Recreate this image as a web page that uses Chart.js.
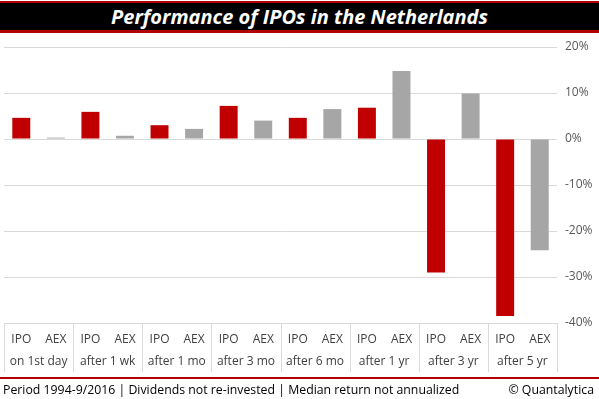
<!DOCTYPE html>
<html>
<head>
<meta charset="utf-8">
<script src="https://cdn.jsdelivr.net/npm/chart.js@4/dist/chart.umd.min.js"></script>
<style>
  html, body { margin: 0; padding: 0; background: #fff; }
  #wrap { position: relative; width: 599px; height: 399px; overflow: hidden; font-family: 'Open Sans', sans-serif; }
  #chart { position: absolute; left: 0; top: 0; }
  #title {
    position: absolute; left: 0; top: 1px; width: 599px; height: 27px;
    background: #000; border-top: 2px solid #b00000; border-bottom: 3px solid #b00000;
    color: #fff; font-weight: 700; font-style: italic; font-size: 20px;
    text-align: center; line-height: 27px;
  }
  #footer {
    position: absolute; left: 0; top: 377px; width: 599px; height: 22px;
    border-top: 2px solid #b00000; font-size: 12.3px; color: #000; line-height: 21px;
  }
  #footer .l { position: absolute; left: 3px; top: 0; }
  #footer .r { position: absolute; right: 5px; top: 0; }
</style>
</head>
<body>
<div id="wrap">
  <canvas id="chart" width="599" height="399"></canvas>
  <div id="title">Performance of IPOs in the Netherlands</div>
  <div id="footer"><span class="l">Period 1994-9/2016 | Dividends not re-invested | Median return not annualized</span><span class="r">© Quantalytica</span></div>
</div>
<script>
const periods = ['on 1st day', 'after 1 wk', 'after 1 mo', 'after 3 mo', 'after 6 mo', 'after 1 yr', 'after 3 yr', 'after 5 yr'];
const seriesNames = ['IPO', 'AEX'];
const ipoValues = [4.6, 5.9, 3.0, 7.2, 4.6, 6.8, -29.0, -38.5];
const aexValues = [0.3, 0.7, 2.2, 4.0, 6.5, 14.8, 9.9, -24.2];
const yMin = -40, yMax = 20, yStep = 10;

// flatten into 16 categories: IPO, AEX per period
const labels = [];
const values = [];
const colors = [];
periods.forEach((p, i) => {
  labels.push(seriesNames[0]); values.push(ipoValues[i]); colors.push('#c00000');
  labels.push(seriesNames[1]); values.push(aexValues[i]); colors.push('#a6a6a6');
});

// draws the two-level category table under the plot
const groupTable = {
  id: 'groupTable',
  afterDraw(chart) {
    const ctx = chart.ctx;
    const x = chart.scales.x;
    const area = chart.chartArea;
    const top = area.bottom;
    const bottom = top + 49;
    const half = (x.getPixelForValue(1) - x.getPixelForValue(0)) / 2;
    ctx.save();
    ctx.strokeStyle = '#d9d9d9';
    ctx.lineWidth = 1;
    for (let k = 0; k <= periods.length; k++) {
      const px = k < periods.length ? x.getPixelForValue(k * 2) - half : x.getPixelForValue(k * 2 - 1) + half;
      ctx.beginPath();
      ctx.moveTo(Math.round(px) + 0.5, top);
      ctx.lineTo(Math.round(px) + 0.5, bottom);
      ctx.stroke();
    }
    ctx.fillStyle = '#404040';
    ctx.font = '12px "Open Sans"';
    ctx.textAlign = 'center';
    ctx.textBaseline = 'middle';
    periods.forEach((p, k) => {
      const cx = (x.getPixelForValue(k * 2) + x.getPixelForValue(k * 2 + 1)) / 2;
      ctx.fillText(p, cx, top + 39);
    });
    ctx.restore();
  }
};

new Chart(document.getElementById('chart'), {
  type: 'bar',
  data: {
    labels: labels,
    datasets: [{
      data: values,
      backgroundColor: colors,
      barPercentage: 0.52,
      categoryPercentage: 1
    }]
  },
  plugins: [groupTable],
  options: {
    responsive: false,
    animation: false,
    layout: { padding: { top: 47, left: 4, right: 0, bottom: 27 } },
    plugins: {
      legend: { display: false },
      tooltip: { enabled: false }
    },
    scales: {
      x: {
        grid: { display: false },
        border: { display: false },
        ticks: {
          color: '#404040',
          font: { family: 'Open Sans', size: 12 },
          padding: 1,
          maxRotation: 0,
          autoSkip: false
        },
        afterFit(scale) { scale.height = 49; }
      },
      y: {
        position: 'right',
        min: yMin,
        max: yMax,
        ticks: {
          stepSize: yStep,
          color: '#595959',
          font: { family: 'Open Sans', size: 12 },
          padding: 8,
          callback: v => v + '%'
        },
        grid: { color: '#d9d9d9', drawTicks: false },
        border: { display: false },
        afterFit(scale) { scale.width = 42; }
      }
    }
  }
});
</script>
</body>
</html>
